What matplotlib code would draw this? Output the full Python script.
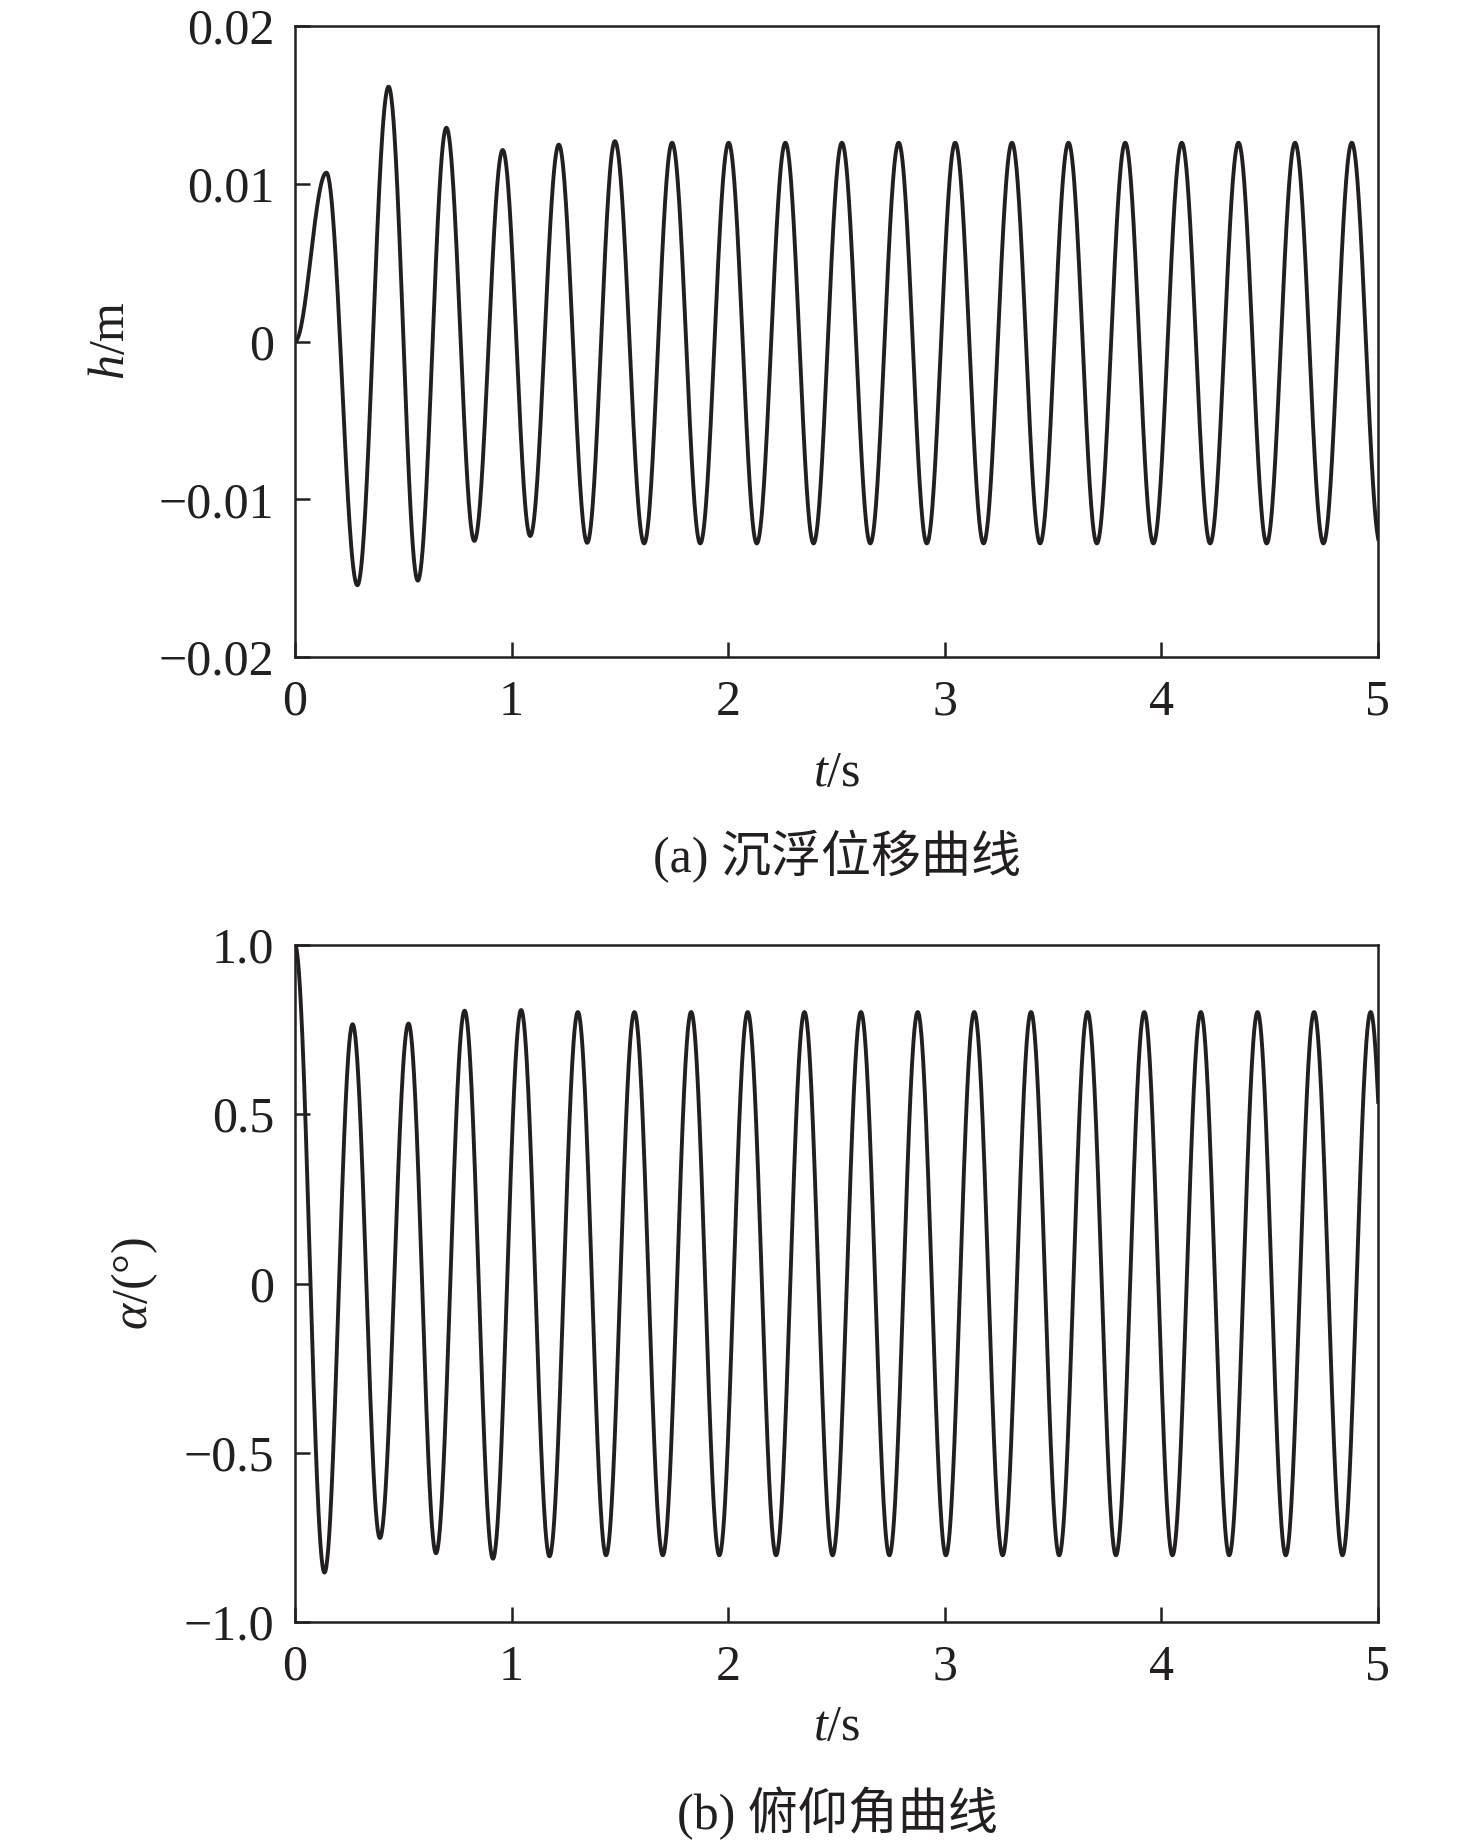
import numpy as np
import matplotlib
matplotlib.use("Agg")
import matplotlib.pyplot as plt

# ---------------- data ----------------
# heave displacement h (m): times / values of successive extrema
h_ext_t = [0.000, 0.145, 0.288, 0.432, 0.567, 0.699, 0.828, 0.959, 1.086, 1.218,
           1.349, 1.477, 1.612, 1.741, 1.871, 2.002, 2.132, 2.264, 2.394, 2.525,
           2.656, 2.787, 2.917, 3.048, 3.179, 3.310, 3.440, 3.571, 3.702, 3.833,
           3.963, 4.094, 4.225, 4.356, 4.486, 4.617, 4.748, 4.879, 5.010]
h_ext_v = [0.0000, 0.0107, -0.01545, 0.01615, -0.01516, 0.01355, -0.01264, 0.01214,
           -0.01233, 0.01248, -0.01276, 0.0127, -0.0128, 0.0126, -0.0128, 0.0126,
           -0.0128, 0.0126, -0.0128, 0.0126, -0.0128, 0.0126, -0.0128, 0.0126,
           -0.0128, 0.0126, -0.0128, 0.0126, -0.0128, 0.0126, -0.0128, 0.0126,
           -0.0128, 0.0126, -0.0128, 0.0126, -0.0128, 0.0126, -0.0128]

# pitch angle alpha (deg): times / values of successive extrema
a_ext_t = [0.000, 0.136, 0.266, 0.392, 0.524, 0.651, 0.783, 0.914, 1.044, 1.175,
           1.306, 1.436, 1.567, 1.698, 1.829, 1.959, 2.090, 2.221, 2.352, 2.482,
           2.613, 2.744, 2.875, 3.005, 3.136, 3.267, 3.398, 3.528, 3.659, 3.790,
           3.921, 4.051, 4.182, 4.313, 4.444, 4.574, 4.705, 4.836, 4.966, 5.097]
a_ext_v = [1.000, -0.854, 0.766, -0.752, 0.768, -0.797, 0.806, -0.813, 0.808, -0.806,
           0.802, -0.803, 0.802, -0.803, 0.802, -0.803, 0.802, -0.803, 0.802, -0.803,
           0.802, -0.803, 0.802, -0.803, 0.802, -0.803, 0.802, -0.803, 0.802, -0.803,
           0.802, -0.803, 0.802, -0.803, 0.802, -0.803, 0.802, -0.803, 0.802, -0.803]

x_ticks = [0, 1, 2, 3, 4, 5]
x_ticklabels = ["0", "1", "2", "3", "4", "5"]
h_ticks = [0.02, 0.01, 0.0, -0.01, -0.02]
h_ticklabels = ["0.02", "0.01", "0", "\u22120.01", "\u22120.02"]
a_ticks = [1.0, 0.5, 0.0, -0.5, -1.0]
a_ticklabels = ["1.0", "0.5", "0", "\u22120.5", "\u22121.0"]

caption_a = "(a) 沉浮位移曲线"
caption_b = "(b) 俯仰角曲线"

# ---------------- styling ----------------
plt.rcParams["font.family"] = ["Liberation Serif", "Noto Sans CJK SC"]
plt.rcParams["mathtext.fontset"] = "custom"
plt.rcParams["mathtext.rm"] = "Liberation Serif"
plt.rcParams["mathtext.it"] = "Liberation Serif:italic"

INK = "#231f20"
FS = 36
W, H = 1476, 1846


def smooth_through_extrema(te, ve, n=60):
    ts, vs = [], []
    for i in range(len(te) - 1):
        s = np.linspace(0, 1, n, endpoint=False)
        ts.append(te[i] + (te[i + 1] - te[i]) * s)
        vs.append(ve[i] + (ve[i + 1] - ve[i]) * (1 - np.cos(np.pi * s)) / 2)
    ts.append([te[-1]])
    vs.append([ve[-1]])
    return np.concatenate(ts), np.concatenate(vs)


fig = plt.figure(figsize=(W / 100, H / 100), dpi=100)
fig.patch.set_facecolor("white")


def px_axes(x0, y0, x1, y1):
    return fig.add_axes([x0 / W, 1 - y1 / H, (x1 - x0) / W, (y1 - y0) / H])


def style(ax, yticks, ylabels, ylim):
    ax.set_xlim(0, 5)
    ax.set_ylim(*ylim)
    ax.set_xticks(x_ticks)
    ax.set_xticklabels(x_ticklabels)
    ax.set_yticks(yticks)
    ax.set_yticklabels(ylabels)
    for sp in ax.spines.values():
        sp.set_linewidth(1.8)
        sp.set_color(INK)
    ax.tick_params(axis="both", direction="in", length=11, width=1.8, color=INK,
                   labelsize=FS, labelcolor=INK, top=False, right=False)
    ax.tick_params(axis="x", pad=16)
    ax.tick_params(axis="y", pad=15)


# top panel
ax1 = px_axes(295, 26, 1378, 657)
t1, v1 = smooth_through_extrema(h_ext_t, h_ext_v)
ax1.plot(t1, v1, color=INK, lw=2.8, clip_on=True)
style(ax1, h_ticks, h_ticklabels, (-0.02, 0.02))

# bottom panel
ax2 = px_axes(295, 945, 1378, 1622)
t2, v2 = smooth_through_extrema(a_ext_t, a_ext_v)
ax2.plot(t2, v2, color=INK, lw=2.8, clip_on=True)
style(ax2, a_ticks, a_ticklabels, (-1.0, 1.0))


def ftext(x, y, s, **kw):
    fig.text(x / W, 1 - y / H, s, ha="center", va="center", fontsize=FS, color=INK, **kw)


ftext(112, 341, r"$h$/m", rotation=90)
ftext(837, 774, r"$t$/s")
ftext(837, 857, caption_a)

ftext(135, 1283, r"$\alpha$/(°)", rotation=90)
ftext(837, 1728, r"$t$/s")
ftext(837, 1813, caption_b)

fig.savefig("out.png", dpi=100, facecolor="white")
